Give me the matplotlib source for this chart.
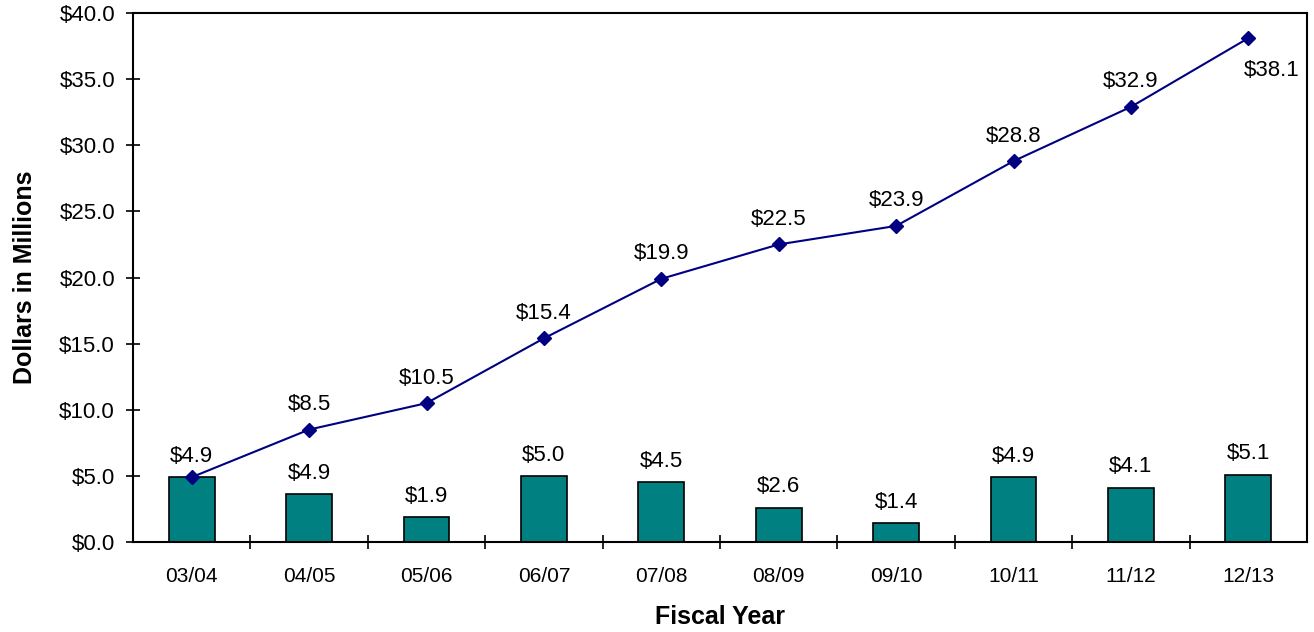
import numpy as np
import matplotlib.pyplot as plt

plt.rcParams['font.family'] = ['Liberation Sans', 'DejaVu Sans']

years = ['03/04', '04/05', '05/06', '06/07', '07/08', '08/09', '09/10', '10/11', '11/12', '12/13']
annual = [4.9, 3.6, 1.9, 5.0, 4.5, 2.6, 1.4, 4.9, 4.1, 5.1]
annual_labels = ['$4.9', '$4.9', '$1.9', '$5.0', '$4.5', '$2.6', '$1.4', '$4.9', '$4.1', '$5.1']
cumulative = [4.9, 8.5, 10.5, 15.4, 19.9, 22.5, 23.9, 28.8, 32.9, 38.1]

x = np.arange(len(years))

fig = plt.figure(figsize=(13.14, 6.32), dpi=100)
ax = fig.add_axes([133 / 1314, 90 / 632, 1174 / 1314, 529 / 632])

ax.bar(x, annual, width=0.39, color='#008080', edgecolor='black', linewidth=1.2, zorder=2)
ax.plot(x, cumulative, color='#000080', linewidth=1.5, marker='D', markersize=7, zorder=3)

# bar labels; the first one sits above both the bar and the line point
for i, (v, lab) in enumerate(zip(annual, annual_labels)):
    ax.annotate(lab, (x[i], v), xytext=(0, 15), textcoords='offset points',
                ha='center', va='center', fontsize=16)

# cumulative labels (skip the first, shared with the bar)
for i, v in enumerate(cumulative):
    if i == 0:
        continue
    if i == len(cumulative) - 1:
        ax.annotate('$%.1f' % v, (x[i], v), xytext=(17, -23), textcoords='offset points',
                    ha='center', va='center', fontsize=16)
    else:
        ax.annotate('$%.1f' % v, (x[i], v), xytext=(0, 18), textcoords='offset points',
                    ha='center', va='center', fontsize=16)

ax.set_xlim(-0.5, len(years) - 0.5)
ax.set_ylim(0, 40)
ax.set_yticks(np.arange(0, 41, 5))
ax.set_yticklabels(['$%.1f' % t for t in np.arange(0, 41, 5)], fontsize=16)
ax.set_xticks(x)
ax.set_xticklabels(years, fontsize=15)
ax.set_xticks(np.arange(0.5, len(years) - 0.5, 1), minor=True)
ax.tick_params(axis='x', which='major', length=0, pad=18)
ax.tick_params(axis='x', which='minor', direction='inout', length=10, width=1.2)
ax.tick_params(axis='y', direction='inout', length=10, width=1.2, pad=8)

for sp in ax.spines.values():
    sp.set_linewidth(1.5)

ax.set_ylabel('Dollars in Millions', fontsize=18, fontweight='bold', labelpad=16)
ax.set_xlabel('Fiscal Year', fontsize=18, fontweight='bold', labelpad=14)

fig.savefig('out.png', dpi=100)
